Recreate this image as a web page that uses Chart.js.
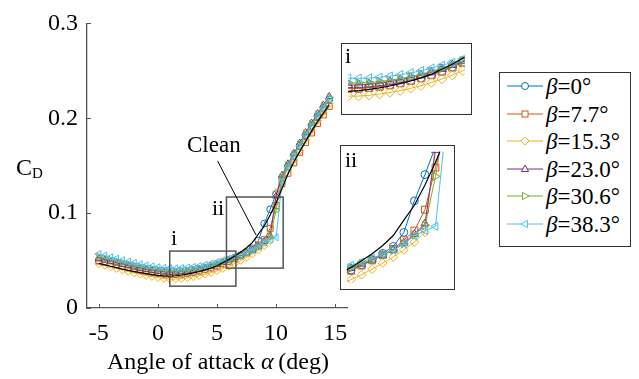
<!DOCTYPE html>
<html>
<head>
<meta charset="utf-8">
<script src="https://cdn.jsdelivr.net/npm/chart.js@4.4.1/dist/chart.umd.min.js"></script>
<style>
html,body{margin:0;padding:0;background:#fff;}
body{position:relative;width:639px;height:379px;overflow:hidden;font-family:'Liberation Serif','Times New Roman',serif;color:#000;}
canvas{display:block;}
#mainc{position:absolute;left:0;top:0;}
.t{position:absolute;font-size:22px;line-height:22px;white-space:nowrap;}
.inset{position:absolute;box-sizing:border-box;border:1.5px solid #333;background:#fff;overflow:hidden;}
.inset canvas{position:absolute;left:0;top:0;}
#legend{position:absolute;left:499px;top:72px;width:132px;height:175px;box-sizing:border-box;border:1.3px solid #333;background:#fff;}
.lrow{position:absolute;left:0;height:23px;font-size:23px;line-height:23px;white-space:nowrap;}
.lrow svg{position:absolute;left:6px;top:5px;}
.lrow span{position:absolute;left:46px;top:0;}
</style>
</head>
<body>
<canvas id="mainc" width="639" height="379"></canvas>
<div class="inset" id="inset1" style="left:341px;top:43px;width:131px;height:72px;"><canvas id="c1"></canvas></div>
<div class="inset" id="inset2" style="left:340px;top:145px;width:115px;height:145px;"><canvas id="c2"></canvas></div>
<div class="t" style="left:345px;top:45px;">i</div>
<div class="t" style="left:345px;top:149px;">ii</div>
<div class="t" style="left:171px;top:227px;">i</div>
<div class="t" style="left:212px;top:197px;">ii</div>
<div class="t" style="left:187px;top:134px;font-size:23px;">Clean</div>
<div class="t" style="left:87px;width:262px;text-align:center;top:349px;font-size:24px;line-height:24px;">Angle of attack <i>α</i>&thinsp;(deg)</div>
<div class="t" style="left:16px;top:155px;font-size:24px;line-height:24px;">C<span style="font-size:15px;position:relative;top:3px;">D</span></div>
<div id="legend"></div>
<script>
// ---- data ----
const alpha = [-5,-4.5,-4,-3.5,-3,-2.5,-2,-1.5,-1,-0.5,0,0.5,1,1.5,2,2.5,3,3.5,4,4.5,5,5.5,6,6.5,7,7.5,8,8.5,9,9.5,10,10.5,11,11.5,12,12.5,13,13.5,14,14.5];
const cdClean = [.0470,.0455,.0440,.0425,.0410,.0397,.0384,.0372,.0362,.0352,.0344,.0338,.0335,.0340,.0348,.0358,.0370,.0385,.0402,.0422,.0446,.0478,.0510,.0548,.0588,.0635,.0692,.0780,.0865,.0980,.1110,.1260,.1410,.1540,.1650,.1760,.1865,.1965,.2055,.2145];
const cdBeta0 = [.0500,.0485,.0470,.0455,.0440,.0426,.0413,.0400,.0388,.0378,.0368,.0360,.0356,.0357,.0362,.0370,.0380,.0393,.0408,.0425,.0445,.0468,.0495,.0525,.0555,.0590,.0630,.0710,.0890,.1040,.1200,.1370,.1490,.1610,.1710,.1820,.1920,.2020,.2110,.2200];
const cdBeta77 = [.0495,.0480,.0466,.0452,.0438,.0424,.0411,.0398,.0386,.0375,.0366,.0358,.0353,.0354,.0358,.0366,.0376,.0389,.0404,.0421,.0441,.0464,.0490,.0520,.0550,.0580,.0615,.0665,.0720,.0840,.1080,.1310,.1420,.1530,.1640,.1745,.1845,.1945,.2035,.2125];
const cdBeta153 = [.0465,.0448,.0432,.0416,.0400,.0385,.0370,.0356,.0343,.0331,.0320,.0311,.0305,.0305,.0310,.0318,.0328,.0340,.0355,.0372,.0392,.0415,.0440,.0468,.0500,.0535,.0570,.0610,.0655,.0710,.1220,.1360,.1460,.1560,.1660,.1770,.1875,.1975,.2065,.2155];
const cdBeta230 = [.0520,.0505,.0490,.0475,.0460,.0446,.0432,.0419,.0407,.0396,.0387,.0380,.0376,.0377,.0381,.0388,.0397,.0409,.0423,.0439,.0458,.0480,.0505,.0530,.0555,.0580,.0610,.0650,.0700,.0760,.1180,.1400,.1520,.1630,.1740,.1850,.1950,.2050,.2140,.2230];
const cdBeta306 = [.0540,.0524,.0508,.0493,.0478,.0463,.0449,.0436,.0424,.0413,.0403,.0395,.0390,.0390,.0393,.0399,.0407,.0418,.0431,.0446,.0464,.0485,.0508,.0532,.0555,.0580,.0608,.0645,.0695,.0750,.1030,.1380,.1510,.1620,.1730,.1840,.1940,.2040,.2130,.2220];
const cdBeta383 = [.0570,.0553,.0536,.0520,.0504,.0489,.0475,.0462,.0450,.0440,.0431,.0424,.0420,.0419,.0421,.0426,.0433,.0442,.0454,.0468,.0484,.0502,.0522,.0542,.0562,.0585,.0610,.0645,.0690,.0720,.0745,.1330,.1490,.1600,.1710,.1820,.1920,.2020,.2110,.2200];
const seriesLabels = ['0°','7.7°','15.3°','23.0°','30.6°','38.3°'];
const xTickValues = [-5,0,5,10,15];
const xTickLabels = ['-5','0','5','10','15'];
const yTickValues = [0,0.1,0.2,0.3];
const yTickLabels = ['0','0.1','0.2','0.3'];

// ---- styling / layout ----
const seriesData = [cdBeta0, cdBeta77, cdBeta153, cdBeta230, cdBeta306, cdBeta383];
const colors = ['#0072BD','#D95319','#EDB120','#7E2F8E','#77AC30','#4DBEEE'];
const shapes = ['circle','rect','rectRot','triangle','triangle','triangle'];
const rotations = [0,0,0,0,90,-90];
const radii = [3.4,4.2,3.8,4,4,4];
const boxI = {x0:1.0, x1:6.6, y0:0.023, y1:0.060};
const boxII = {x0:5.8, x1:10.6, y0:0.042, y1:0.117};
const cleanPointer = {x0:5.05, y0:0.155, x1:8.3, y1:0.077};
const FONT = "'Liberation Serif', 'Times New Roman', serif";
const AXIS = '#555';

Chart.defaults.font.family = FONT;
Chart.defaults.color = '#000';

function buildDatasets(markerScale){
  const ds = seriesData.map((d,i)=>({
    label: 'β=' + seriesLabels[i],
    data: alpha.map((a,j)=>({x:a, y:d[j]})),
    borderColor: colors[i],
    backgroundColor: 'rgba(0,0,0,0)',
    pointBackgroundColor: 'rgba(0,0,0,0)',
    pointBorderColor: colors[i],
    pointStyle: shapes[i],
    pointRotation: rotations[i],
    pointRadius: radii[i] * markerScale,
    pointBorderWidth: 1,
    borderWidth: 1,
    tension: 0,
    order: 6 - i
  }));
  ds.push({
    label: 'Clean',
    data: alpha.map((a,j)=>({x:a, y:cdClean[j]})),
    borderColor: '#000', borderWidth: 1.2, pointRadius: 0, tension: 0, order: 0
  });
  return ds;
}

const annot = {
  id: 'annot',
  afterDatasetsDraw(chart){
    const {ctx, scales:{x, y}} = chart;
    ctx.save();
    ctx.strokeStyle = '#555'; ctx.lineWidth = 1.5;
    [boxI, boxII].forEach(b=>{
      const l = x.getPixelForValue(b.x0), r = x.getPixelForValue(b.x1);
      const t = y.getPixelForValue(b.y1), bt = y.getPixelForValue(b.y0);
      ctx.strokeRect(l, t, r - l, bt - t);
    });
    ctx.strokeStyle = '#000'; ctx.lineWidth = 1;
    ctx.beginPath();
    ctx.moveTo(x.getPixelForValue(cleanPointer.x0), y.getPixelForValue(cleanPointer.y0));
    ctx.lineTo(x.getPixelForValue(cleanPointer.x1), y.getPixelForValue(cleanPointer.y1));
    ctx.stroke();
    ctx.restore();
  },
  afterDraw(chart){
    const {ctx, scales:{x, y}, chartArea} = chart;
    ctx.save();
    ctx.strokeStyle = AXIS; ctx.lineWidth = 1;
    ctx.beginPath();
    x.ticks.forEach(t=>{ const p = Math.round(x.getPixelForValue(t.value))+0.5; ctx.moveTo(p, chartArea.bottom); ctx.lineTo(p, chartArea.bottom-4); });
    y.ticks.forEach(t=>{ const p = Math.round(y.getPixelForValue(t.value))+0.5; ctx.moveTo(chartArea.left, p); ctx.lineTo(chartArea.left+4, p); });
    ctx.stroke();
    ctx.restore();
  }
};

new Chart(document.getElementById('mainc'), {
  type: 'line',
  data: { datasets: buildDatasets(1) },
  options: {
    responsive: false, animation: false, devicePixelRatio: 1,
    layout: { padding: { left: 0, top: 20, right: 292, bottom: 0 } },
    plugins: { legend: { display: false }, tooltip: { enabled: false } },
    scales: {
      x: {
        type: 'linear', min: -6, max: 16,
        afterBuildTicks: s => { s.ticks = xTickValues.map(v=>({value:v})); },
        afterFit: s => { s.height = 71; },
        ticks: { font: { size: 24, family: FONT }, color: '#000', padding: 11, maxRotation: 0, autoSkip: false,
                 callback: (v, i) => xTickLabels[i] },
        grid: { display: false, drawTicks: false },
        border: { display: true, color: AXIS, width: 1.3 }
      },
      y: {
        type: 'linear', min: 0, max: 0.3,
        afterBuildTicks: s => { s.ticks = yTickValues.map(v=>({value:v})); },
        afterFit: s => { s.width = 87; },
        ticks: { font: { size: 24, family: FONT }, color: '#000', padding: 9, callback: (v, i) => yTickLabels[i] },
        grid: { display: false, drawTicks: false },
        border: { display: true, color: AXIS, width: 1.3 }
      }
    }
  },
  plugins: [annot]
});

function makeInset(id, wrapId, box, markerScale){
  const wrap = document.getElementById(wrapId);
  const cv = document.getElementById(id);
  cv.width = wrap.clientWidth; cv.height = wrap.clientHeight;
  new Chart(cv, {
    type: 'line',
    data: { datasets: buildDatasets(markerScale) },
    options: {
      responsive: false, animation: false, devicePixelRatio: 1,
      layout: { padding: 0 },
      plugins: { legend: { display: false }, tooltip: { enabled: false } },
      scales: {
        x: { type: 'linear', display: false, min: box.x0, max: box.x1 },
        y: { type: 'linear', display: false, min: box.y0, max: box.y1 }
      }
    }
  });
}
makeInset('c1', 'inset1', boxI, 1.25);
makeInset('c2', 'inset2', boxII, 1.15);

// ---- legend ----
function markerSvg(i){
  const c = colors[i];
  let m = '';
  const cx = 19, cy = 6;
  if (shapes[i] === 'circle') m = `<circle cx="${cx}" cy="${cy}" r="3.5" fill="#fff" stroke="${c}"/>`;
  else if (shapes[i] === 'rect') m = `<rect x="${cx-3}" y="${cy-3}" width="6" height="6" fill="#fff" stroke="${c}"/>`;
  else if (shapes[i] === 'rectRot') m = `<polygon points="${cx},${cy-4} ${cx+4},${cy} ${cx},${cy+4} ${cx-4},${cy}" fill="#fff" stroke="${c}"/>`;
  else if (rotations[i] === 0) m = `<polygon points="${cx},${cy-4} ${cx+3.6},${cy+2.5} ${cx-3.6},${cy+2.5}" fill="#fff" stroke="${c}"/>`;
  else if (rotations[i] === 90) m = `<polygon points="${cx+4},${cy} ${cx-2.5},${cy-3.6} ${cx-2.5},${cy+3.6}" fill="#fff" stroke="${c}"/>`;
  else m = `<polygon points="${cx-4},${cy} ${cx+2.5},${cy-3.6} ${cx+2.5},${cy+3.6}" fill="#fff" stroke="${c}"/>`;
  return `<svg width="38" height="12"><line x1="1" y1="${cy}" x2="37" y2="${cy}" stroke="${c}" stroke-width="1"/>${m}</svg>`;
}
const leg = document.getElementById('legend');
seriesLabels.forEach((lab, i)=>{
  const row = document.createElement('div');
  row.className = 'lrow';
  row.style.top = (2 + i * 27.6) + 'px';
  row.innerHTML = markerSvg(i) + `<span><i>β</i>=${lab}</span>`;
  leg.appendChild(row);
});
</script>
</body>
</html>
